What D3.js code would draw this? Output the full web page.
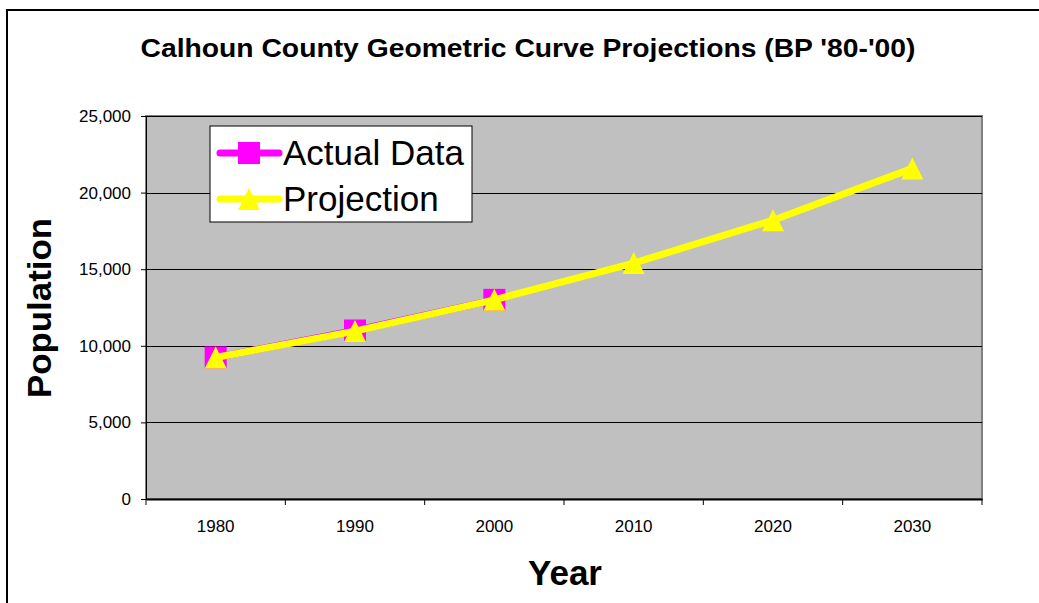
<!DOCTYPE html>
<html>
<head>
<meta charset="utf-8">
<script src="https://cdn.jsdelivr.net/npm/d3@7"></script>
<style>
  body { margin: 0; background: #fff; }
  svg { display: block; font-family: Arial, "Liberation Sans", sans-serif; }
</style>
</head>
<body>
<div id="chart"></div>
<script>
const years = ["1980", "1990", "2000", "2010", "2020", "2030"];
const actualData = [9240, 11000, 13000];
const projection = [9240, 10960, 13000, 15400, 18200, 21580];
const yTicks = [0, 5000, 10000, 15000, 20000, 25000];

const width = 1039, height = 603;
const plot = { left: 146, right: 982, top: 116, bottom: 499 };
const font = "Arial, 'Liberation Sans', sans-serif";

const svg = d3.select("#chart").append("svg")
    .attr("width", width)
    .attr("height", height);

// outer frame (open on right/bottom, cropped)
svg.append("rect")
    .attr("x", 7).attr("y", 10)
    .attr("width", width + 20).attr("height", height + 20)
    .attr("fill", "#fff")
    .attr("stroke", "#000")
    .attr("stroke-width", 2);

const x = d3.scaleBand().domain(years).range([plot.left, plot.right]);
const y = d3.scaleLinear().domain([0, 25000]).range([plot.bottom, plot.top]);

svg.append("rect")
    .attr("x", plot.left).attr("y", plot.top)
    .attr("width", plot.right - plot.left).attr("height", plot.bottom - plot.top)
    .attr("fill", "#c0c0c0")
    .attr("stroke", "#808080")
    .attr("stroke-width", 2);

// gridlines
svg.append("g").selectAll("line")
    .data(yTicks.filter(d => d > 0))
    .enter().append("line")
    .attr("x1", plot.left).attr("x2", plot.right)
    .attr("y1", d => Math.round(y(d)) + 0.5).attr("y2", d => Math.round(y(d)) + 0.5)
    .attr("stroke", "#000")
    .attr("stroke-width", 1);

// y axis
const yAxis = svg.append("g")
    .attr("transform", `translate(${plot.left},0)`)
    .call(d3.axisLeft(y).tickValues(yTicks).tickSize(5).tickPadding(10)
        .tickFormat(d3.format(",")));
yAxis.select(".domain").attr("stroke", "#000");
yAxis.selectAll("text").attr("font-size", 17).attr("fill", "#000")
    .attr("font-family", font);

// x axis with ticks at band boundaries
const xAxis = svg.append("g")
    .attr("transform", `translate(0,${plot.bottom})`)
    .call(d3.axisBottom(x).tickSize(0).tickPadding(21));
xAxis.select(".domain").attr("stroke", "#000").attr("stroke-width", 2);
xAxis.selectAll("text").attr("font-size", 17).attr("fill", "#000")
    .attr("font-family", font);
xAxis.selectAll("line.bound")
    .data(years.concat(["end"]))
    .enter().append("line")
    .attr("class", "bound")
    .attr("x1", (d, i) => plot.left + i * x.step())
    .attr("x2", (d, i) => plot.left + i * x.step())
    .attr("y1", 0).attr("y2", 6)
    .attr("stroke", "#000");

const cx = (d, i) => x(years[i]) + x.bandwidth() / 2;
const line = d3.line().x(cx).y(d => y(d));

// actual data series
svg.append("path")
    .datum(actualData)
    .attr("d", line)
    .attr("fill", "none")
    .attr("stroke", "#ff00ff")
    .attr("stroke-width", 7);
svg.append("g").selectAll("rect")
    .data(actualData)
    .enter().append("rect")
    .attr("x", (d, i) => cx(d, i) - 11)
    .attr("y", d => y(d) - 11)
    .attr("width", 22).attr("height", 22)
    .attr("fill", "#ff00ff");

// projection series
svg.append("path")
    .datum(projection)
    .attr("d", line)
    .attr("fill", "none")
    .attr("stroke", "#ffff00")
    .attr("stroke-width", 7);
const tri = "M0,-11L11,11L-11,11Z";
svg.append("g").selectAll("path")
    .data(projection)
    .enter().append("path")
    .attr("transform", (d, i) => `translate(${cx(d, i)},${y(d)})`)
    .attr("d", tri)
    .attr("fill", "#ffff00");

// legend
const legend = svg.append("g").attr("transform", "translate(210,126)");
legend.append("rect")
    .attr("width", 262).attr("height", 96)
    .attr("fill", "#fff").attr("stroke", "#000").attr("stroke-width", 1);
const items = [
    { name: "Actual Data", color: "#ff00ff", shape: "square" },
    { name: "Projection", color: "#ffff00", shape: "triangle" }
];
const li = legend.selectAll("g.item").data(items).enter().append("g")
    .attr("transform", (d, i) => `translate(0,${27 + i * 46})`);
li.append("line")
    .attr("x1", 10).attr("x2", 69)
    .attr("stroke", d => d.color).attr("stroke-width", 7)
    .attr("stroke-linecap", "round");
li.append("path")
    .attr("transform", "translate(39,0)")
    .attr("d", d => d.shape === "square" ? "M-11,-11H11V11H-11Z" : tri)
    .attr("fill", d => d.color);
li.append("text")
    .attr("x", 73).attr("y", 12)
    .attr("font-size", 35)
    .text(d => d.name);

// title and axis titles
svg.append("text")
    .attr("x", 528).attr("y", 57)
    .attr("text-anchor", "middle")
    .attr("font-size", 26).attr("font-weight", "bold")
    .attr("textLength", 775).attr("lengthAdjust", "spacingAndGlyphs")
    .text("Calhoun County Geometric Curve Projections (BP '80-'00)");

svg.append("text")
    .attr("x", 565).attr("y", 585)
    .attr("text-anchor", "middle")
    .attr("font-size", 35).attr("font-weight", "bold")
    .text("Year");

svg.append("text")
    .attr("transform", "translate(51,308) rotate(-90)")
    .attr("text-anchor", "middle")
    .attr("font-size", 34).attr("font-weight", "bold")
    .attr("textLength", 180).attr("lengthAdjust", "spacingAndGlyphs")
    .text("Population");
</script>
</body>
</html>
